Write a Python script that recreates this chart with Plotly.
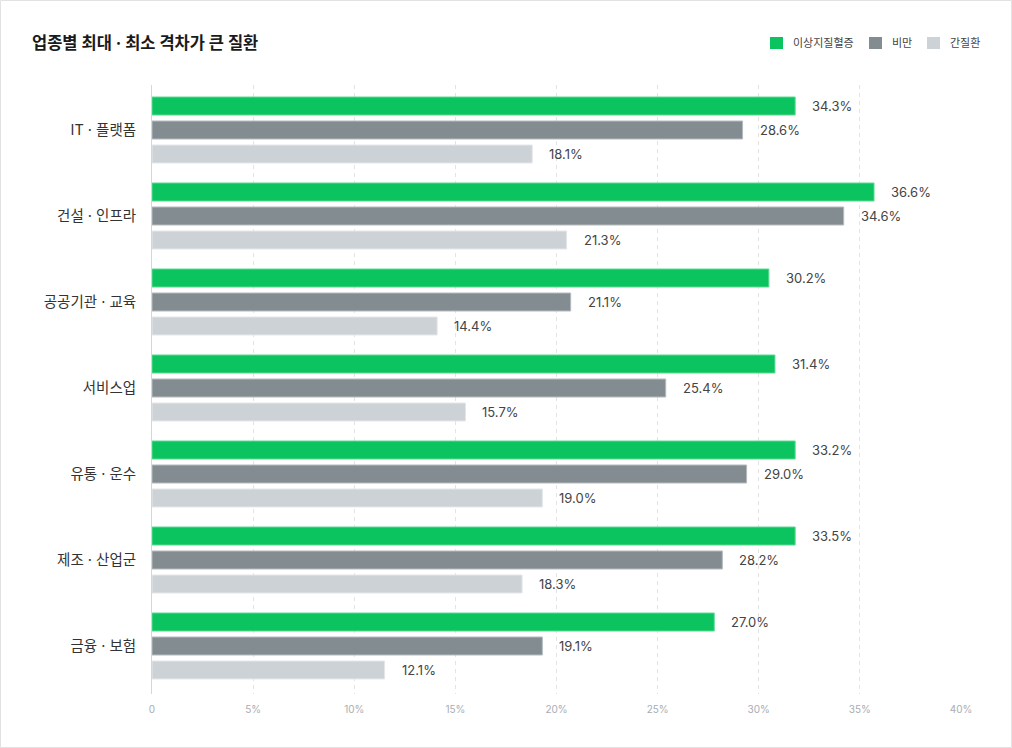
import plotly.graph_objects as go

categories = ["IT · 플랫폼", "건설 · 인프라", "공공기관 · 교육", "서비스업", "유통 · 운수", "제조 · 산업군", "금융 · 보험"]
series_names = ["이상지질혈증", "비만", "간질환"]
# bar lengths as drawn in the reference (percent)
lipid = [31.8, 35.7, 30.5, 30.8, 31.8, 31.8, 27.8]
obesity = [29.2, 34.2, 20.7, 25.4, 29.4, 28.2, 19.3]
liver = [18.8, 20.5, 14.1, 15.5, 19.3, 18.3, 11.5]
# value labels as printed in the reference
lipid_lbl = ["34.3%", "36.6%", "30.2%", "31.4%", "33.2%", "33.5%", "27.0%"]
obesity_lbl = ["28.6%", "34.6%", "21.1%", "25.4%", "29.0%", "28.2%", "19.1%"]
liver_lbl = ["18.1%", "21.3%", "14.4%", "15.7%", "19.0%", "18.3%", "12.1%"]
tick_vals = [0, 5, 10, 15, 20, 25, 30, 35, 40]
tick_text = ["0", "5%", "10%", "15%", "20%", "25%", "30%", "35%", "40%"]

colors = ["#0BC45F", "#838D91", "#CDD2D6"]
edges = ["#5ED894", "#B4BBBE", "#E4E7EA"]

FONT = "Inter, 'Noto Sans CJK KR', sans-serif"

W, H = 1012, 748
ml, mr, mt, mb = 152, 51, 85, 54
pw, ph = W - ml - mr, H - mt - mb
cat_px = 86.0
n = len(categories)
extra_top, extra_bot = 2.0, 5.0


def px_x(x):
    return (x - ml) / pw


def px_y(y):
    return (H - mb - y) / ph


fig = go.Figure()
for name, vals, c, e in zip(series_names, [lipid, obesity, liver], colors, edges):
    fig.add_trace(go.Bar(
        y=categories, x=vals, name=name, orientation="h",
        marker=dict(color=c, line=dict(color=e, width=1)),
        hoverinfo="x+name", showlegend=False,
    ))

annotations = []
for vals, lbls, ys in zip([lipid, obesity, liver], [lipid_lbl, obesity_lbl, liver_lbl], [24, 0, -24]):
    for cat, v, t in zip(categories, vals, lbls):
        annotations.append(dict(
            x=v, y=cat, text=t, showarrow=False, xanchor="left", yanchor="middle",
            xshift=15, yshift=ys, font=dict(family=FONT, size=13, color="#444444"),
        ))

# custom legend (layout positions in pixels)
legend_sq_x = [770, 869, 927]
shapes = []
for name, c, sx in zip(series_names, colors, legend_sq_x):
    shapes.append(dict(type="rect", xref="paper", yref="paper",
                       x0=px_x(sx), x1=px_x(sx + 13), y0=px_y(49), y1=px_y(37),
                       line=dict(width=0), fillcolor=c))
    annotations.append(dict(x=px_x(sx + 21), y=px_y(43), xref="paper", yref="paper",
                            text=name, showarrow=False, xanchor="left", yanchor="middle",
                            font=dict(family=FONT, size=11, color="#444444")))

shapes.append(dict(type="rect", xref="paper", yref="paper",
                   x0=px_x(0.5), x1=px_x(W - 0.5), y0=px_y(H - 0.5), y1=px_y(0.5),
                   line=dict(color="#E2E2E2", width=1), fillcolor="rgba(0,0,0,0)", layer="below"))

yr = [n - 0.5 + extra_bot / cat_px, -0.5 - extra_top / cat_px]

fig.update_layout(
    width=W, height=H,
    margin=dict(l=ml, r=mr, t=mt, b=mb),
    paper_bgcolor="white", plot_bgcolor="white",
    font=dict(family=FONT, color="#333333"),
    barmode="group", bargap=14 / 86, bargroupgap=0.25,
    showlegend=False,
    title=dict(text="<b>업종별 최대 · 최소 격차가 큰 질환</b>", xref="container", yref="container",
               x=32 / W, y=1 - 43 / H, xanchor="left", yanchor="middle",
               font=dict(family=FONT, size=16.5, color="#1a1a1a")),
    xaxis=dict(range=[0, 40], tickvals=tick_vals, ticktext=tick_text,
               showgrid=True, gridcolor="#E3E3E3", griddash="4px,4px", gridwidth=1,
               zeroline=False, showline=False, ticks="",
               tickfont=dict(family=FONT, size=10, color="#A8ADB2"), ticklabelstandoff=8,
               fixedrange=True),
    yaxis=dict(range=yr, showgrid=False, ticks="", showline=True, linecolor="#D5D8DB",
               linewidth=1, tickfont=dict(family=FONT, size=14.5, color="#333333"),
               ticklabelstandoff=12, fixedrange=True),
    annotations=annotations,
    shapes=shapes,
)

fig.write_html("out.html", config={"displayModeBar": False},
               post_script="document.body.style.margin='0';document.body.style.padding='0';")
